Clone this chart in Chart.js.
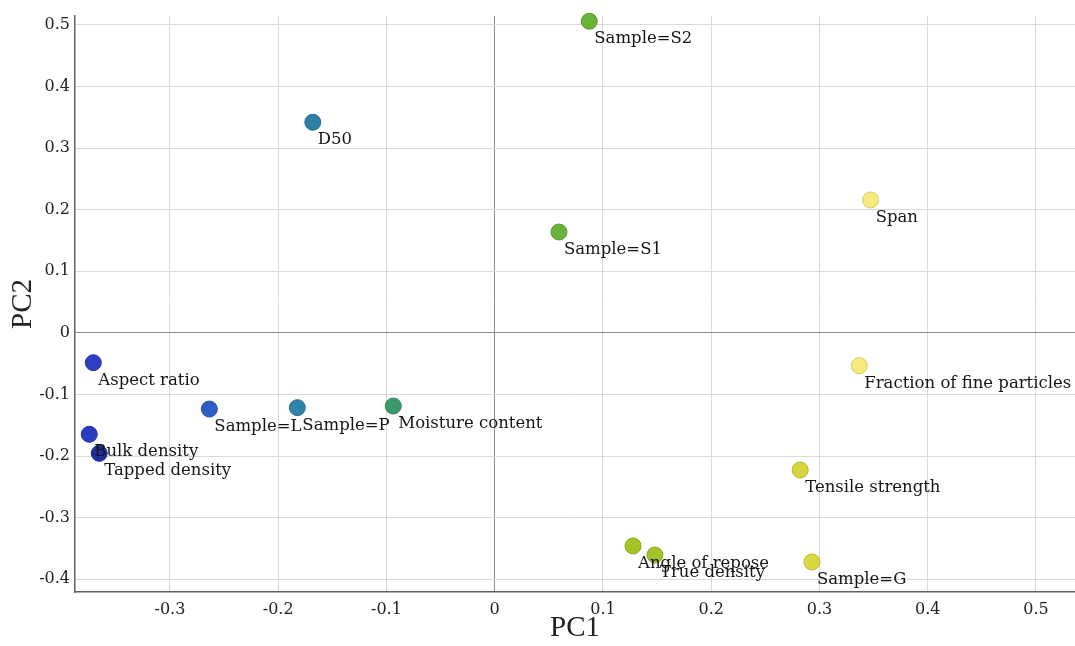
<!DOCTYPE html>
<html>
<head>
<meta charset="utf-8">
<script src="https://cdn.jsdelivr.net/npm/chart.js@4/dist/chart.umd.min.js"></script>
<style>
  html, body { margin: 0; padding: 0; background: #ffffff; }
  #wrap { width: 1075px; height: 646px; }
</style>
</head>
<body>
<div id="wrap"><canvas id="c" width="1075" height="646"></canvas></div>
<script>
// ---- data ----
const pointLabels = [
  "Sample=S2", "D50", "Span", "Sample=S1", "Aspect ratio",
  "Fraction of fine particles", "Sample=L", "Sample=P", "Moisture content",
  "Bulk density", "Tapped density", "Tensile strength", "Angle of repose",
  "True density", "Sample=G"
];
const pc1Values = [0.0874, -0.168, 0.3473, 0.0594, -0.3708, 0.3368, -0.2636, -0.1823, -0.0937, -0.3745, -0.3653, 0.2822, 0.1278, 0.1480, 0.2931];
const pc2Values = [0.506, 0.342, 0.2158, 0.1638, -0.0484, -0.0532, -0.1236, -0.1214, -0.1187, -0.1646, -0.1955, -0.2226, -0.346, -0.3606, -0.372];
const pointColors = [
  "#68b43a", "#2f7fa3", "#f7ea7c", "#68b43a", "#2b40c0",
  "#f7ea7c", "#2d5ec4", "#2f84a8", "#3b9a6a",
  "#2b3cc0", "#1f2f9f", "#d6d63c", "#a5c527",
  "#a3c427", "#d9d83c"
];
const xTitle = "PC1";
const yTitle = "PC2";

function darken(hex, f) {
  const n = parseInt(hex.slice(1), 16);
  const r = Math.round(((n >> 16) & 255) * f), g = Math.round(((n >> 8) & 255) * f), b = Math.round((n & 255) * f);
  return `rgb(${r},${g},${b})`;
}

const points = pc1Values.map((x, i) => ({ x: x, y: pc2Values[i] }));

const labelPlugin = {
  id: 'pointLabels',
  afterDatasetsDraw(chart) {
    const ctx = chart.ctx;
    const meta = chart.getDatasetMeta(0);
    ctx.save();
    ctx.font = '16.5px "DejaVu Serif", serif';
    ctx.fillStyle = '#151515';
    ctx.textAlign = 'left';
    ctx.textBaseline = 'alphabetic';
    meta.data.forEach((el, i) => {
      ctx.fillText(pointLabels[i], el.x + 5, el.y + 22);
    });
    ctx.restore();
  }
};

const tickFmt = v => {
  const r = Math.round(v * 10) / 10;
  if (Math.abs(r) < 1e-9) return '0';
  return r.toFixed(1);
};

const gridColor = c => (Math.abs(c.tick.value) < 1e-9 ? '#8c8c8c' : '#d9d9d9');
const zeroPad = s => { s.paddingLeft = 0; s.paddingRight = 0; s.paddingTop = 0; s.paddingBottom = 0; };

new Chart(document.getElementById('c'), {
  type: 'scatter',
  data: {
    datasets: [{
      data: points,
      backgroundColor: pointColors,
      borderColor: pointColors.map(c => darken(c, 0.85)),
      borderWidth: 1,
      pointRadius: 8,
      pointHoverRadius: 8,
      clip: false
    }]
  },
  options: {
    responsive: false,
    animation: false,
    devicePixelRatio: 1,
    layout: { autoPadding: false, padding: { top: 16, right: 0, bottom: 0, left: 0 } },
    plugins: { legend: { display: false }, tooltip: { enabled: false } },
    scales: {
      x: {
        type: 'linear',
        min: -0.3877,
        max: 0.5361,
        ticks: {
          stepSize: 0.1,
          includeBounds: false,
          callback: tickFmt,
          font: { family: '"DejaVu Serif", serif', size: 16 },
          color: '#222222',
          padding: 8,
          maxRotation: 0
        },
        grid: { color: gridColor, lineWidth: 1, drawTicks: false },
        border: { display: true, color: '#606060', width: 1.5 },
        title: {
          display: true, text: xTitle,
          font: { family: '"Liberation Serif", serif', size: 29 },
          color: '#222222', padding: { top: 0, bottom: 0 }
        },
        afterFit(scale) { scale.height = 54; zeroPad(scale); }
      },
      y: {
        type: 'linear',
        min: -0.4207,
        max: 0.5145,
        ticks: {
          stepSize: 0.1,
          includeBounds: false,
          callback: tickFmt,
          font: { family: '"DejaVu Serif", serif', size: 16 },
          color: '#222222',
          padding: 5
        },
        grid: { color: gridColor, lineWidth: 1, drawTicks: false },
        border: { display: true, color: '#606060', width: 1.5 },
        title: {
          display: true, text: yTitle,
          font: { family: '"Liberation Serif", serif', size: 29 },
          color: '#222222', padding: { top: 6, bottom: 0 }
        },
        afterFit(scale) { scale.width = 75; zeroPad(scale); }
      }
    }
  },
  plugins: [labelPlugin]
});
</script>
</body>
</html>
